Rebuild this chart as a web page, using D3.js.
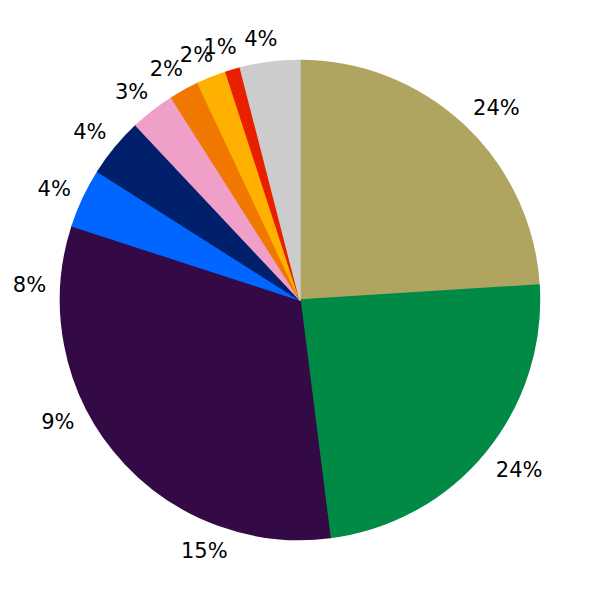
<!DOCTYPE html>
<html><head><meta charset="utf-8">
<script src="https://cdn.jsdelivr.net/npm/d3@7"></script>
<style>body{margin:0;background:#fff}svg{display:block}</style>
</head><body>
<svg id="c" width="600" height="600"></svg>
<script>
const labels = ["24%","24%","15%","9%","8%","4%","4%","3%","2%","2%","1%","4%"];
const values = [24,24,15,9,8,4,4,3,2,2,1,4];
const colors = ["#b0a560","#008a45","#330a45","#330a45","#330a45","#0066ff","#00206b","#f0a0c8","#f07800","#ffb000","#e82000","#cccccc"];

const svg = d3.select("#c");
const cx = 300, cy = 300, R = 239.5, LR = 265;
const g = svg.append("g").attr("transform", `translate(${cx},${cy})`);
const pie = d3.pie().sort(null).value(d => d)(values);
const arc = d3.arc().innerRadius(0).outerRadius(R);
g.selectAll("path").data(pie).join("path")
  .attr("d", arc)
  .attr("fill", (d,i) => colors[i])
  .attr("stroke", (d,i) => colors[i]).attr("stroke-width", 1.5)
  .attr("stroke-linejoin", "round");
g.selectAll("text").data(pie).join("text")
  .attr("x", d => { const a = (d.startAngle + d.endAngle)/2; const s = Math.sin(a); return LR*s + (s > 0 ? 15 : -6); })
  .attr("y", d => { const a = (d.startAngle + d.endAngle)/2; return -LR*Math.cos(a); })
  .attr("text-anchor", "middle")
  .attr("dy", "0.4em")
  .attr("font-family", "DejaVu Sans")
  .attr("font-size", 21)
  .attr("fill", "#000")
  .text((d,i) => labels[i]);
</script>
</body></html>
